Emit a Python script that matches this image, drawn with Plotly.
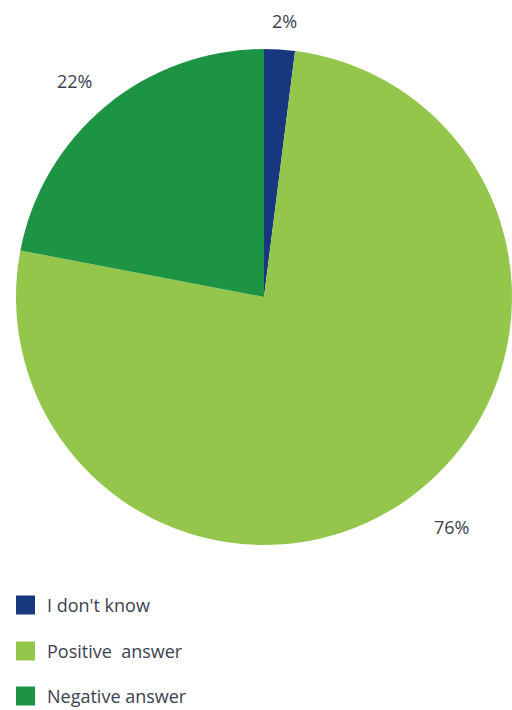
import plotly.graph_objects as go

# Survey answers (share of respondents, %)
labels = ["I don't know", "Positive  answer", "Negative answer"]
values = [2, 76, 22]
colors = ["#17387f", "#93c64b", "#1d9444"]

# where each percentage label sits (paper coords)
label_pos = [(0.555, 0.971), (0.881, 0.258), (0.145, 0.886)]

W, H = 512, 710
text_color = "#3c4150"
font_family = "Open Sans, Noto Sans, sans-serif"

fig = go.Figure()
fig.add_trace(go.Pie(
    labels=labels,
    values=values,
    sort=False,
    direction="clockwise",
    rotation=0,
    marker=dict(colors=colors, line=dict(width=0)),
    textinfo="none",
    hoverinfo="label+percent",
    showlegend=False,
    domain=dict(x=[0.03125, 1.0], y=[0.2324, 0.9310]),
))

annotations = []
for v, (px, py) in zip(values, label_pos):
    annotations.append(dict(
        x=px, y=py, xref="paper", yref="paper",
        text=f"{v}%", showarrow=False,
        font=dict(size=18, color=text_color, family=font_family),
        xanchor="center", yanchor="middle",
    ))

# legend: coloured squares with category names underneath the pie
shapes = []
sq = 19
row_centers = [605, 651, 696]
for lab, col, yc in zip(labels, colors, row_centers):
    shapes.append(dict(
        type="rect", xref="paper", yref="paper",
        x0=16 / W, x1=(16 + sq) / W,
        y0=(H - (yc + sq / 2)) / H, y1=(H - (yc - sq / 2)) / H,
        fillcolor=col, line=dict(width=0),
    ))
    annotations.append(dict(
        x=45 / W, y=(H - yc) / H, xref="paper", yref="paper",
        text=lab.replace("  ", "&nbsp; "), showarrow=False,
        font=dict(size=18, color=text_color, family=font_family),
        xanchor="left", yanchor="middle",
    ))

fig.update_layout(
    width=W, height=H,
    margin=dict(l=0, r=0, t=0, b=0),
    paper_bgcolor="white",
    plot_bgcolor="white",
    annotations=annotations,
    shapes=shapes,
)

fig.write_html("out.html")
